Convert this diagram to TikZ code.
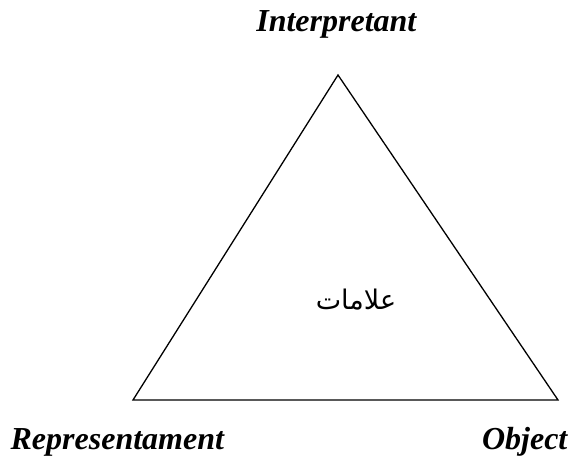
\documentclass[tikz,border=0pt]{standalone}
\usepackage{fontspec}
\setmainfont{Liberation Serif}
\newfontfamily\arabicfont[Script=Arabic]{DejaVu Sans}
\TeXXeTstate=1
\begin{document}
\begin{tikzpicture}[x=1pt, y=1pt, line width=1.3pt,
    vertexlabel/.style={inner sep=0pt, font=\fontsize{32}{36}\selectfont\bfseries\itshape}]
    \useasboundingbox (0,0) rectangle (574,463);
    % Vertici del triangolo
    \coordinate (interp) at (338,388);
    \coordinate (repr) at (133,63);
    \coordinate (obj) at (558,63);

    % Triangolo semiotico
    \draw (repr) -- (obj) -- (interp) -- cycle;

    % Etichette dei vertici
    \node[vertexlabel, anchor=base east] (interpLabel) at (417,431) {Interpretant};
    \node[vertexlabel, anchor=base west] (reprLabel) at (10,13) {Representament};
    \node[vertexlabel, anchor=base east] (objLabel) at (568,13) {Object};

    % Segno al centro
    \node[inner sep=0pt, font=\arabicfont\fontsize{27}{30}\selectfont] (sign) at (356,163) {\beginR علامات\endR};
\end{tikzpicture}
\end{document}
